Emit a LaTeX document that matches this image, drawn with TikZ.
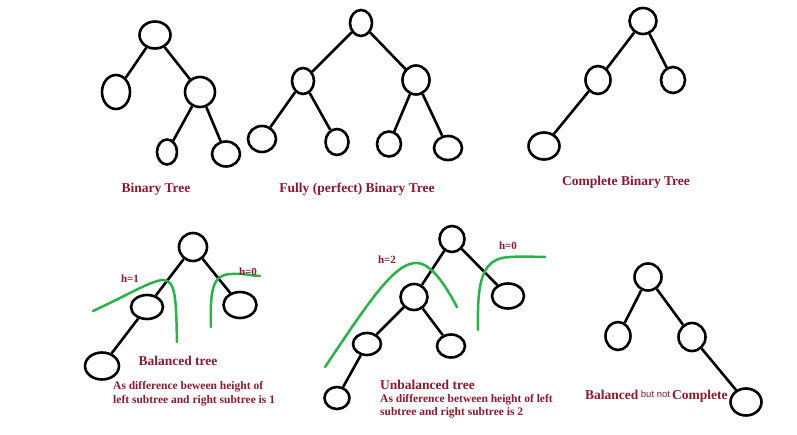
\documentclass[tikz,border=0pt]{standalone}
\usepackage{fontspec}
\setmainfont{Liberation Serif}
\setsansfont{Liberation Sans}
\usetikzlibrary{shapes.geometric}
\definecolor{lbl}{RGB}{140,25,45}
\definecolor{grn}{RGB}{45,178,74}
\begin{document}
\begin{tikzpicture}[x=1pt,y=-1pt,
  nd/.style={ellipse,draw,line width=2.6pt,inner sep=0pt},
  sz/.style 2 args={minimum width=#1pt,minimum height=#2pt},
  edge/.style={line width=2.6pt},
  ttl/.style={text=lbl,font=\fontsize{13.5}{15}\selectfont\bfseries},
  hl/.style={text=lbl,font=\fontsize{11}{12}\selectfont\bfseries},
  note/.style={text=lbl,font=\fontsize{11.5}{14}\selectfont\bfseries,align=left,inner sep=0pt},
  gcurve/.style={draw=grn,line width=2.5pt,line cap=round}]
\useasboundingbox[fill=white] (0,0) rectangle (797,435);

% ---------- Binary Tree ----------
\node[nd,sz={31}{27}] (a1) at (155,35) {};
\node[nd,sz={28}{34}] (a2) at (116,92) {};
\node[nd,sz={30}{30}] (a3) at (200,92) {};
\node[nd,sz={20}{25}] (a4) at (167,152) {};
\node[nd,sz={28}{25}] (a5) at (226,154) {};
\draw[edge] (a1) -- (a2);
\draw[edge] (a1) -- (a3);
\draw[edge] (a3) -- (a4);
\draw[edge] (a3) -- (a5);
\node[ttl] (t1) at (156,189) {Binary Tree};

% ---------- Fully (perfect) Binary Tree ----------
\node[nd,sz={22}{26}] (b1) at (361,23) {};
\node[nd,sz={22}{26}] (b2) at (303,81) {};
\node[nd,sz={27}{29}] (b3) at (416,80) {};
\node[nd,sz={28}{26}] (b4) at (262,139) {};
\node[nd,sz={23}{26}] (b5) at (337,142) {};
\node[nd,sz={24}{25}] (b6) at (389,144) {};
\node[nd,sz={28}{24}] (b7) at (448,148) {};
\draw[edge] (b1) -- (b2);
\draw[edge] (b1) -- (b3);
\draw[edge] (b2) -- (b4);
\draw[edge] (b2) -- (b5);
\draw[edge] (b3) -- (b6);
\draw[edge] (b3) -- (b7);
\node[ttl] (t2) at (357,189) {Fully (perfect) Binary Tree};

% ---------- Complete Binary Tree ----------
\node[nd,sz={27}{26}] (c1) at (643,21) {};
\node[nd,sz={25}{28}] (c2) at (598,80) {};
\node[nd,sz={24}{26}] (c3) at (673,80) {};
\node[nd,sz={31}{27}] (c4) at (544,146) {};
\draw[edge] (c1) -- (c2);
\draw[edge] (c1) -- (c3);
\draw[edge] (c2) -- (c4);
\node[ttl] (t3) at (626,182) {Complete Binary Tree};

% ---------- Balanced tree ----------
\node[nd,sz={28}{28}] (d1) at (193,247) {};
\node[nd,sz={32}{24}] (d2) at (147,307) {};
\node[nd,sz={33}{26}] (d3) at (240,305) {};
\node[nd,sz={34}{27}] (d4) at (102,366) {};
\draw[edge] (d1) -- (d2);
\draw[edge] (d1) -- (d3);
\draw[edge] (d2) -- (d4);
\draw[gcurve] (93,311) .. controls (130,294) and (150,281) .. (163,280)
  .. controls (176,280) and (176,300) .. (177,342);
\draw[gcurve] (211,327) .. controls (210,290) and (212,274) .. (232,274)
  .. controls (245,273) and (252,276) .. (260,276);
\node[hl] (h1) at (130,279) {h=1};
\node[hl] (h2) at (248,272) {h=0};
\node[ttl] (t4) at (178,361) {Balanced tree};
\node[note,anchor=west] (n4) at (113,394) {As difference beween height of\\left subtree and right subtree is 1};

% ---------- Unbalanced tree ----------
\node[nd,sz={25}{26}] (e1) at (452,239) {};
\node[nd,sz={27}{26}] (e2) at (414,297) {};
\node[nd,sz={32}{25}] (e3) at (508,296) {};
\node[nd,sz={28}{22}] (e4) at (367,344) {};
\node[nd,sz={28}{23}] (e5) at (451,346) {};
\node[nd,sz={25}{22}] (e6) at (337,398) {};
\draw[edge] (e1) -- (e2);
\draw[edge] (e1) -- (e3);
\draw[edge] (e2) -- (e4);
\draw[edge] (e2) -- (e5);
\draw[edge] (e4) -- (e6);
\draw[gcurve] (325,367) .. controls (370,300) and (395,262) .. (417,263)
  .. controls (432,264) and (445,285) .. (457,307);
\draw[gcurve] (478,330) .. controls (477,280) and (482,258) .. (510,257)
  .. controls (525,256) and (535,257) .. (545,257);
\node[hl] (h3) at (387,260) {h=2};
\node[hl] (h4) at (508,246) {h=0};
\node[ttl,anchor=west,inner sep=0pt] (t5) at (380,385) {Unbalanced tree};
\node[note,anchor=west,font=\fontsize{11.5}{13}\selectfont\bfseries] (n5) at (380,406.5) {As difference between height of left\\subtree and right subtree is 2};

% ---------- Balanced but not Complete ----------
\node[nd,sz={27}{27}] (f1) at (648,277) {};
\node[nd,sz={25}{28}] (f2) at (618,336) {};
\node[nd,sz={27}{28}] (f3) at (692,337) {};
\node[nd,sz={31}{27}] (f4) at (746,402) {};
\draw[edge] (f1) -- (f2);
\draw[edge] (f1) -- (f3);
\draw[edge] (f3) -- (f4);
\node[ttl,anchor=base west,inner sep=0pt] (t6) at (585,399) {Balanced\hspace{2.5pt}\raisebox{2pt}{\fontsize{9.5}{10}\selectfont\sffamily\mdseries but not}\hspace{2pt}Complete};
\end{tikzpicture}
\end{document}
